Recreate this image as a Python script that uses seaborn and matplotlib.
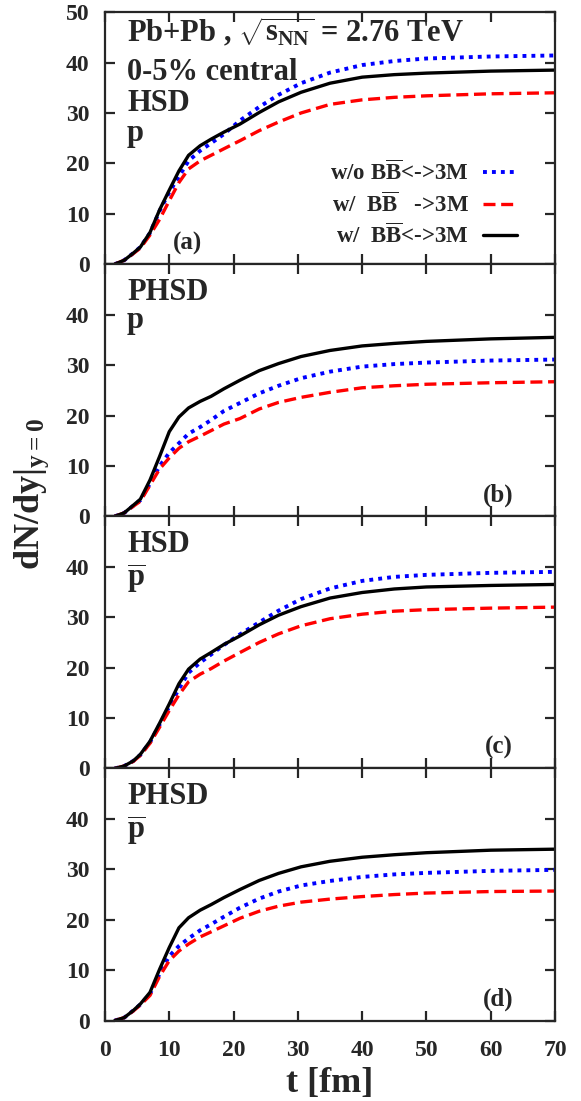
import numpy as np
import pandas as pd
import seaborn as sns
import matplotlib.pyplot as plt

# time grid [fm]
t_fm = [1.5, 3, 4.4, 5.5, 7, 8.5, 10, 11.5, 13, 14.8, 16.5, 18.5,
        21, 24, 27, 30.5, 35, 40, 45, 50, 60, 70]

# (a) HSD, p
a_without = [0, 0.8, 2.2, 3.4, 6.2, 10.6, 14.3, 17.4, 20.5, 22.5, 24.0, 25.8,
             28.5, 31.2, 33.6, 35.9, 38.0, 39.5, 40.3, 40.8, 41.2, 41.4]
a_forward = [0, 0.8, 2.1, 3.2, 5.8, 8.9, 12.6, 16.2, 18.9, 20.5, 21.6, 22.9,
             24.5, 26.5, 28.2, 30.0, 31.7, 32.6, 33.1, 33.4, 33.8, 34.0]
a_both = [0, 0.8, 2.2, 3.4, 6.3, 10.8, 14.7, 18.5, 21.6, 23.5, 24.8, 26.2,
          27.8, 30.1, 32.2, 34.1, 35.9, 37.1, 37.6, 37.9, 38.3, 38.5]

# (b) PHSD, p
b_without = [0, 0.7, 2.1, 3.2, 6.5, 10.0, 12.6, 14.5, 16.4, 17.7, 19.1, 20.9,
             22.5, 24.4, 25.9, 27.4, 28.7, 29.7, 30.2, 30.5, 30.9, 31.1]
b_forward = [0, 0.7, 2.0, 3.0, 6.2, 9.4, 11.6, 13.5, 14.8, 15.9, 17.0, 18.3,
             19.4, 21.3, 22.6, 23.6, 24.6, 25.5, 25.9, 26.2, 26.5, 26.7]
b_both = [0, 0.7, 2.2, 3.4, 7.2, 11.9, 16.8, 19.7, 21.5, 22.8, 23.8, 25.3,
          27.0, 28.9, 30.3, 31.7, 32.9, 33.8, 34.3, 34.7, 35.2, 35.5]

# (c) HSD, pbar
c_without = [0, 0.5, 1.5, 2.7, 5.2, 8.7, 12.3, 15.8, 19.0, 21.0, 22.6, 24.5,
             26.6, 29.0, 31.3, 33.6, 35.7, 37.2, 38.0, 38.4, 38.8, 39.0]
c_forward = [0, 0.5, 1.4, 2.6, 5.0, 8.2, 11.5, 14.6, 17.2, 18.7, 19.8, 21.3,
             23.0, 25.0, 26.7, 28.3, 29.7, 30.6, 31.2, 31.5, 31.8, 32.0]
c_both = [0, 0.5, 1.5, 2.8, 5.4, 9.0, 12.8, 16.8, 19.7, 21.7, 23.0, 24.6,
          26.3, 28.5, 30.4, 32.1, 33.8, 34.9, 35.6, 36.0, 36.3, 36.5]

# (d) PHSD, pbar
d_without = [0, 0.6, 2.0, 3.2, 5.3, 9.3, 12.8, 14.8, 16.3, 17.9, 19.1, 20.6,
             22.4, 24.2, 25.6, 26.8, 27.7, 28.5, 29.0, 29.3, 29.7, 29.9]
d_forward = [0, 0.6, 1.9, 3.1, 5.0, 8.8, 11.9, 13.8, 15.2, 16.6, 17.6, 18.8,
             20.3, 21.7, 22.7, 23.5, 24.1, 24.6, 25.0, 25.3, 25.6, 25.7]
d_both = [0, 0.6, 2.0, 3.3, 5.6, 10.2, 14.5, 18.4, 20.4, 21.9, 23.0, 24.4,
          26.0, 27.8, 29.2, 30.5, 31.6, 32.4, 32.9, 33.3, 33.8, 34.0]

case_labels = [r"w/o B$\overline{\mathbf{B}}$<->3M",
               r"w/  B$\overline{\mathbf{B}}$   ->3M",
               r"w/  B$\overline{\mathbf{B}}$<->3M"]
panel_tags = ["(a)", "(b)", "(c)", "(d)"]
panel_models = ["HSD", "PHSD", "HSD", "PHSD"]
panel_particles = ["p", "p", r"$\overline{\mathbf{p}}$", r"$\overline{\mathbf{p}}$"]
x_ticks = [0, 10, 20, 30, 40, 50, 60, 70]

panels = [(a_without, a_forward, a_both),
          (b_without, b_forward, b_both),
          (c_without, c_forward, c_both),
          (d_without, d_forward, d_both)]

sns.set_style("ticks")
plt.rcParams["font.family"] = ["Liberation Serif", "DejaVu Serif"]
plt.rcParams["font.weight"] = "bold"
plt.rcParams["mathtext.fontset"] = "custom"
plt.rcParams["mathtext.rm"] = "Liberation Serif:bold"
plt.rcParams["mathtext.bf"] = "Liberation Serif:bold"
plt.rcParams["mathtext.it"] = "Liberation Serif:bold"
plt.rcParams["axes.linewidth"] = 1.6

styles = [dict(color="#0000ff", linestyle=(0, (1.0, 1.3)), linewidth=2.8),
          dict(color="#ff0000", linestyle=(0, (3.6, 1.7)), linewidth=2.4),
          dict(color="black", linestyle="-", linewidth=2.4)]

fig, axes = plt.subplots(4, 1, figsize=(5.81, 11.01), dpi=100, sharex=True)
fig.subplots_adjust(left=0.1807, right=0.9552, bottom=0.073, top=0.989, hspace=0)

for i, ax in enumerate(axes):
    for vals, lab, st in zip(panels[i], case_labels, styles):
        df = pd.DataFrame({"t": t_fm, "dNdy": vals})
        sns.lineplot(data=df, x="t", y="dNdy", ax=ax, label=lab, legend=False, **st)
    ax.set_xlim(0, 70)
    ax.set_ylim(0, 50)
    y_ticks = [0, 10, 20, 30, 40, 50] if i == 0 else [0, 10, 20, 30, 40]
    ax.set_yticks(y_ticks, labels=[str(v) for v in y_ticks],
                  fontweight="bold", fontsize=17)
    ax.set_xticks(x_ticks, labels=[str(v) for v in x_ticks],
                  fontweight="bold", fontsize=17)
    ax.tick_params(direction="in", length=7, width=1.6, top=True, right=True)
    ax.tick_params(axis="y", pad=11)
    ax.tick_params(axis="x", pad=14)
    ax.set_xlabel("")
    ax.set_ylabel("")
    ax.text(0.049, 0.859 if i else 0.609, panel_models[i], transform=ax.transAxes,
            fontsize=22, fontweight="bold", va="baseline")
    ax.text(0.049, [0.49, 0.748, 0.72, 0.72][i], panel_particles[i], transform=ax.transAxes,
            fontsize=22, fontweight="bold", va="baseline")
    ax.text(12.9 if i == 0 else 61.2, 3.0, panel_tags[i], fontsize=18,
            fontweight="bold", ha="center", va="baseline")

axes[0].text(0.049, 0.882, r"Pb+Pb , $\sqrt{\mathbf{s}_{\mathbf{NN}}}$ = 2.76 TeV",
             transform=axes[0].transAxes, fontsize=22, fontweight="bold", va="baseline")
axes[0].text(0.049, 0.732, "0-5% central", transform=axes[0].transAxes,
             fontsize=22, fontweight="bold", va="baseline")

axes[0].legend(loc="upper right", bbox_to_anchor=(0.916, 0.412), frameon=False,
               markerfirst=False, handlelength=1.5, handletextpad=0.6,
               labelspacing=0.3, borderpad=0, borderaxespad=0,
               prop={"size": 16.5, "weight": "bold"})

axes[-1].set_xlabel("t [fm]", fontsize=26, fontweight="bold", labelpad=4)
fig.text(0.055, 0.551, r"dN/dy$|_{\mathbf{y=0}}$", rotation=90, fontsize=26,
         fontweight="bold", ha="center", va="center")

fig.savefig("out.png", dpi=100)
